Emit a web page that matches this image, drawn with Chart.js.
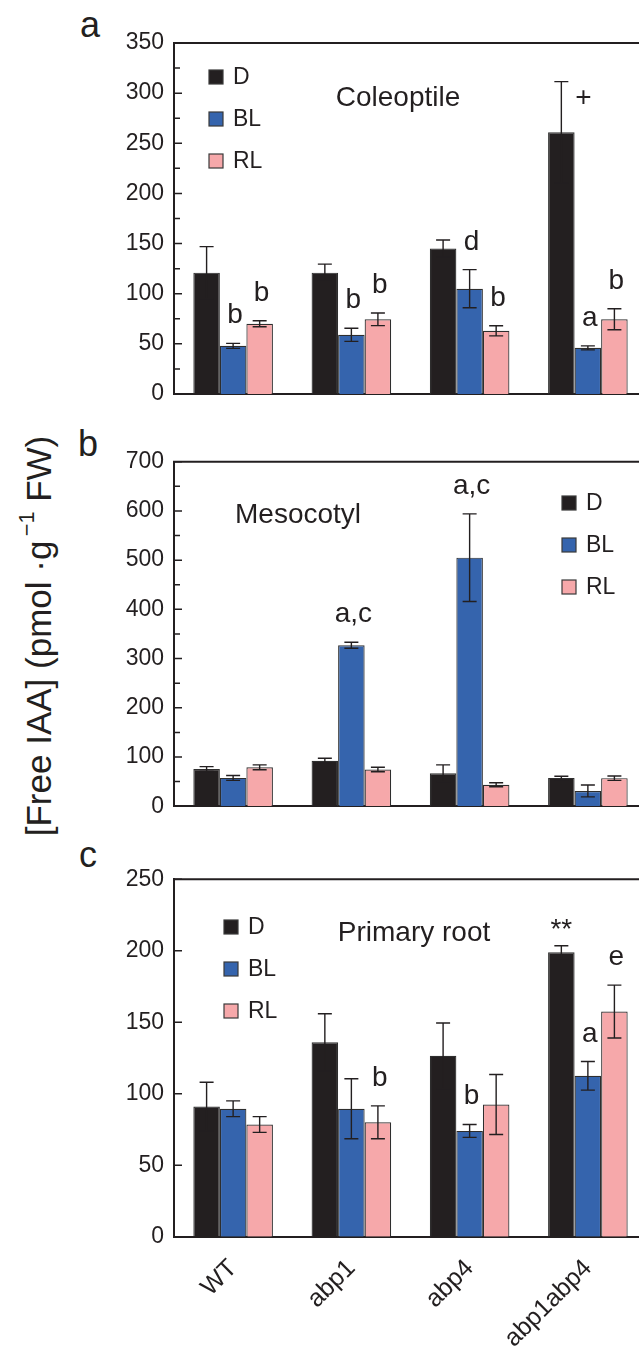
<!DOCTYPE html>
<html>
<head>
<meta charset="utf-8">
<script src="https://cdn.jsdelivr.net/npm/chart.js@4.4.0/dist/chart.umd.min.js"></script>
<style>
html,body{margin:0;padding:0;background:#fff;overflow:hidden;width:639px;height:1349px;}
.panel{position:absolute;left:0;width:650px;}
.txt{position:absolute;font-family:"Liberation Sans",Arial,sans-serif;color:#231f20;white-space:nowrap;transform:translate(-50%,-50%);line-height:1;}
</style>
</head>
<body>
<div class="txt" style="left:90px;top:25px;font-size:36px">a</div>
<div class="txt" style="left:88px;top:444px;font-size:36px">b</div>
<div class="txt" style="left:88px;top:855px;font-size:36px">c</div>
<div class="txt" style="left:38px;top:636px;font-size:35px;transform:translate(-50%,-50%) rotate(-90deg)">[Free IAA] (pmol ·g<span style="font-size:0.62em;position:relative;top:-0.8em">&#8201;&minus;1</span> FW)</div>

<div class="panel" style="top:0;height:420px"><canvas id="coleChart"></canvas></div>
<div class="panel" style="top:420px;height:410px"><canvas id="mesoChart"></canvas></div>
<div class="panel" style="top:840px;height:509px"><canvas id="rootChart"></canvas></div>

<script>
const genotypes = ['WT', 'abp1', 'abp4', 'abp1abp4'];
const seriesNames = ['D', 'BL', 'RL'];
const seriesColors = ['#231f20', '#3564ad', '#f6a8aa'];

// Coleoptile
const coleD = [121, 121, 145, 261];
const coleDErr = [26, 8.5, 8.5, 50.5];
const coleBL = [48, 59, 105, 46];
const coleBLErr = [2.5, 6.5, 19, 2];
const coleRL = [70, 74.5, 63, 74.5];
const coleRLErr = [3, 6.3, 5, 10.5];
const coleMarks = [[0,1,'b'],[0,2,'b'],[1,1,'b'],[1,2,'b'],[2,1,'d'],[2,2,'b'],[3,0,'+'],[3,1,'a'],[3,2,'b']];

// Mesocotyl
const mesoD = [75.5, 92.5, 67, 57.5];
const mesoDErr = [5, 5, 17, 3.5];
const mesoBL = [57.5, 327, 505, 31];
const mesoBLErr = [5, 6, 89, 12];
const mesoRL = [79, 74.5, 43.5, 57];
const mesoRLErr = [5, 4.5, 4, 4.5];
const mesoMarks = [[1,1,'a,c'],[2,1,'a,c']];

// Primary root
const rootD = [91, 136, 126.5, 199];
const rootDErr = [17, 20, 23, 4.5];
const rootBL = [89.5, 89.5, 74, 112.5];
const rootBLErr = [5.5, 21, 4.5, 10];
const rootRL = [78.5, 80, 92.5, 157.5];
const rootRLErr = [5.5, 11.5, 21, 18.5];
const rootMarks = [[1,2,'b'],[2,1,'b'],[3,0,'**'],[3,1,'a'],[3,2,'e']];

const INK = '#231f20';
const FONT = '"Liberation Sans", Arial, sans-serif';
Chart.defaults.font.family = FONT;
Chart.defaults.color = INK;

// error bars, frame, inward ticks, legend, title, letters
const panelPlugin = {
  id: 'panel',
  afterDatasetsDraw(chart, args, o) {
    const ctx = chart.ctx, ca = chart.chartArea, ys = chart.scales.y;
    ctx.save();
    ctx.strokeStyle = INK;
    ctx.lineWidth = 1.4;
    chart.data.datasets.forEach((ds, di) => {
      chart.getDatasetMeta(di).data.forEach((bar, i) => {
        const v = ds.data[i], e = ds.err[i];
        const t = ys.getPixelForValue(v + e), b = ys.getPixelForValue(v - e);
        ctx.beginPath();
        ctx.moveTo(bar.x, t); ctx.lineTo(bar.x, b);
        ctx.moveTo(bar.x - 7, t); ctx.lineTo(bar.x + 7, t);
        ctx.moveTo(bar.x - 7, b); ctx.lineTo(bar.x + 7, b);
        ctx.stroke();
      });
    });
    // frame top + inward ticks
    ctx.lineWidth = 2;
    ctx.beginPath();
    ctx.moveTo(ca.left - 1, ca.top); ctx.lineTo(ca.right, ca.top);
    ctx.stroke();
    ctx.lineWidth = 1.5;
    ctx.beginPath();
    for (let v = 0; v <= o.max; v += o.step) {
      const p = ys.getPixelForValue(v);
      ctx.moveTo(ca.left, p); ctx.lineTo(ca.left + 8, p);
    }
    if (o.minor) {
      for (let v = o.step / 2; v < o.max; v += o.step) {
        const p = ys.getPixelForValue(v);
        ctx.moveTo(ca.left, p); ctx.lineTo(ca.left + 6, p);
      }
    }
    ctx.stroke();
    // legend
    ctx.font = '23px ' + FONT;
    ctx.textBaseline = 'middle';
    ctx.textAlign = 'left';
    chart.data.datasets.forEach((ds, di) => {
      const cy = o.legY + di * 42;
      ctx.fillStyle = ds.backgroundColor;
      ctx.fillRect(o.legX, cy - 7, 14, 14);
      ctx.strokeStyle = '#3a3a3a';
      ctx.lineWidth = 1.2;
      ctx.strokeRect(o.legX, cy - 7, 14, 14);
      ctx.fillStyle = INK;
      ctx.fillText(ds.label, o.legX + 24, cy + 1);
    });
    // title
    ctx.font = '28px ' + FONT;
    ctx.textAlign = 'center';
    ctx.fillText(o.title, o.tx, o.ty);
    // significance letters
    ctx.textBaseline = 'alphabetic';
    o.marks.forEach(([g, s, txt]) => {
      const ds = chart.data.datasets[s];
      const bar = chart.getDatasetMeta(s).data[g];
      const top = ys.getPixelForValue(ds.data[g] + ds.err[g]);
      if (txt === '+') {
        ctx.textBaseline = 'middle';
        ctx.fillText(txt, bar.x + 22, top + 17);
        ctx.textBaseline = 'alphabetic';
      } else if (txt === '**') {
        ctx.fillText(txt, bar.x, top - 8);
      } else {
        ctx.fillText(txt, bar.x + 2, top - 20);
      }
    });
    ctx.restore();
  }
};

function makeChart(id, d, dErr, bl, blErr, rl, rlErr, cfg) {
  const vals = [[d, dErr], [bl, blErr], [rl, rlErr]];
  return new Chart(document.getElementById(id), {
    type: 'bar',
    data: {
      labels: genotypes,
      datasets: vals.map((v, i) => ({
        label: seriesNames[i],
        data: v[0],
        err: v[1],
        backgroundColor: seriesColors[i],
        borderColor: '#2e2e2e',
        borderWidth: 1.2,
        categoryPercentage: 0.673,
        barPercentage: 1.0
      }))
    },
    options: {
      responsive: true,
      maintainAspectRatio: false,
      animation: false,
      layout: { padding: { top: cfg.padTop, right: 3, left: 0, bottom: 0 } },
      plugins: {
        legend: { display: false },
        tooltip: { enabled: false },
        panel: cfg.panel
      },
      scales: {
        x: {
          offset: true,
          grid: { display: false, drawTicks: false },
          border: { display: true, color: INK, width: 2 },
          ticks: cfg.xTicks ? {
            display: true, font: { size: 25 }, color: INK,
            minRotation: 45, maxRotation: 45, padding: 17
          } : { display: false },
          afterFit: s => { s.height = cfg.xHeight; }
        },
        y: {
          min: 0, max: cfg.panel.max,
          grid: { display: false, drawTicks: false },
          border: { display: true, color: INK, width: 2 },
          ticks: { stepSize: cfg.panel.step, font: { size: 23 }, color: INK, padding: 10 },
          afterFit: s => { s.width = 174; }
        }
      }
    },
    plugins: [panelPlugin]
  });
}

makeChart('coleChart', coleD, coleDErr, coleBL, coleBLErr, coleRL, coleRLErr, {
  padTop: 43, xHeight: 26, xTicks: false,
  panel: { max: 350, step: 50, minor: true, title: 'Coleoptile', tx: 398, ty: 98,
           legX: 209, legY: 77, marks: coleMarks }
});
makeChart('mesoChart', mesoD, mesoDErr, mesoBL, mesoBLErr, mesoRL, mesoRLErr, {
  padTop: 41.7, xHeight: 20.7, xTicks: false,
  panel: { max: 700, step: 100, minor: true, title: 'Mesocotyl', tx: 298, ty: 95,
           legX: 562, legY: 83, marks: mesoMarks }
});
makeChart('rootChart', rootD, rootDErr, rootBL, rootBLErr, rootRL, rootRLErr, {
  padTop: 39.3, xHeight: 112.3, xTicks: true,
  panel: { max: 250, step: 50, minor: false, title: 'Primary root', tx: 414, ty: 93,
           legX: 224, legY: 87, marks: rootMarks }
});
</script>
</body>
</html>
